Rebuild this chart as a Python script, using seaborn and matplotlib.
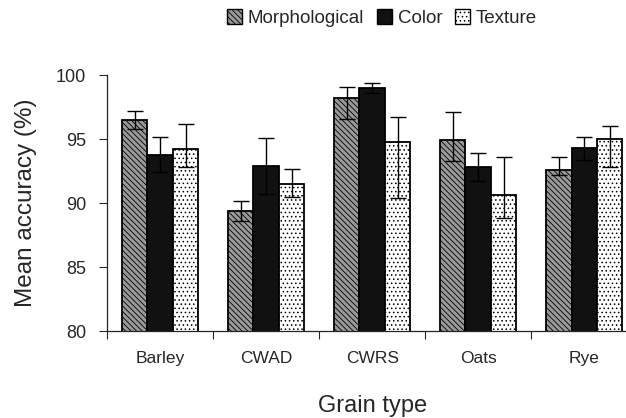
import matplotlib
matplotlib.use("Agg")
import matplotlib.pyplot as plt
import seaborn as sns
import pandas as pd
import numpy as np
from matplotlib.patches import Patch

categories = ["Barley", "CWAD", "CWRS", "Oats", "Rye"]
features = ["Morphological", "Color", "Texture"]
morph = [96.5, 89.4, 98.2, 94.9, 92.6]
color = [93.8, 92.9, 99.0, 92.8, 94.3]
texture = [94.2, 91.5, 94.8, 90.6, 95.0]
morph_err_lo = [0.7, 0.8, 1.6, 1.6, 0.4]
morph_err_hi = [0.7, 0.8, 0.9, 2.2, 1.0]
color_err_lo = [1.4, 2.2, 0.4, 1.1, 0.9]
color_err_hi = [1.4, 2.2, 0.4, 1.1, 0.9]
texture_err_lo = [1.4, 1.0, 4.4, 1.8, 2.2]
texture_err_hi = [2.0, 1.2, 1.9, 3.0, 1.0]

sns.set_style("ticks")
plt.rcParams['font.family'] = ['Liberation Sans', 'DejaVu Sans']
plt.rcParams['hatch.linewidth'] = 0.6

df = pd.DataFrame({
    "Grain": categories * 3,
    "Feature": [f for f in features for _ in categories],
    "Acc": morph + color + texture,
})

fig = plt.figure(figsize=(6.26, 4.18), dpi=100)
ax = fig.add_axes([0.171, 0.208, 0.847, 0.612])
sns.barplot(data=df, x="Grain", y="Acc", hue="Feature", order=categories,
            hue_order=features, errorbar=None, width=0.72, gap=0,
            palette=["white", "#111111", "white"], edgecolor="black",
            linewidth=1.3, ax=ax, legend=False)

styles = [dict(fc="#999999", hatch="\\\\\\\\\\\\"), dict(fc="#111111", hatch=None),
          dict(fc="white", hatch="....")]
vals = [morph, color, texture]
lo = [morph_err_lo, color_err_lo, texture_err_lo]
hi = [morph_err_hi, color_err_hi, texture_err_hi]
bars = ax.patches
n = len(categories)
for j in range(3):
    for i in range(n):
        p = bars[j * n + i]
        p.set_facecolor(styles[j]["fc"])
        if styles[j]["hatch"]:
            p.set_hatch(styles[j]["hatch"])
        xc = p.get_x() + p.get_width() / 2
        ax.errorbar(xc, vals[j][i], yerr=[[lo[j][i]], [hi[j][i]]], fmt="none",
                    ecolor="black", elinewidth=1.0, capsize=6, capthick=1.0, zorder=5)

ax.set_ylim(80, 100)
ax.set_yticks([80, 85, 90, 95, 100])
ax.set_xlim(-0.5, 4.5)
ax.set_xticks(np.arange(n))
ax.set_xticklabels(categories)
ax.set_xticks(np.arange(n + 1) - 0.5, minor=True)
ax.tick_params(axis="x", which="major", length=0, labelsize=12.5, pad=14)
ax.tick_params(axis="x", which="minor", length=6, width=0.8, direction="out")
ax.tick_params(axis="y", labelsize=13, length=6, width=0.8, pad=9)
ax.set_xlabel("Grain type", fontsize=17, labelpad=21)
ax.set_ylabel("Mean accuracy (%)", fontsize=17.5, labelpad=14)
sns.despine(ax=ax)
ax.spines["left"].set_linewidth(0.9)
ax.spines["bottom"].set_linewidth(0.9)

handles = [Patch(facecolor=styles[0]["fc"], hatch=styles[0]["hatch"], edgecolor="black"),
           Patch(facecolor=styles[1]["fc"], edgecolor="black"),
           Patch(facecolor=styles[2]["fc"], hatch=styles[2]["hatch"], edgecolor="black")]
fig.legend(handles, features, loc="center", bbox_to_anchor=(382 / 626, 1 - 18 / 418),
           ncol=3, frameon=False, fontsize=13.5, handlelength=0.8, handleheight=0.8,
           handletextpad=0.3, columnspacing=0.7)

fig.savefig("out.png", dpi=100)
